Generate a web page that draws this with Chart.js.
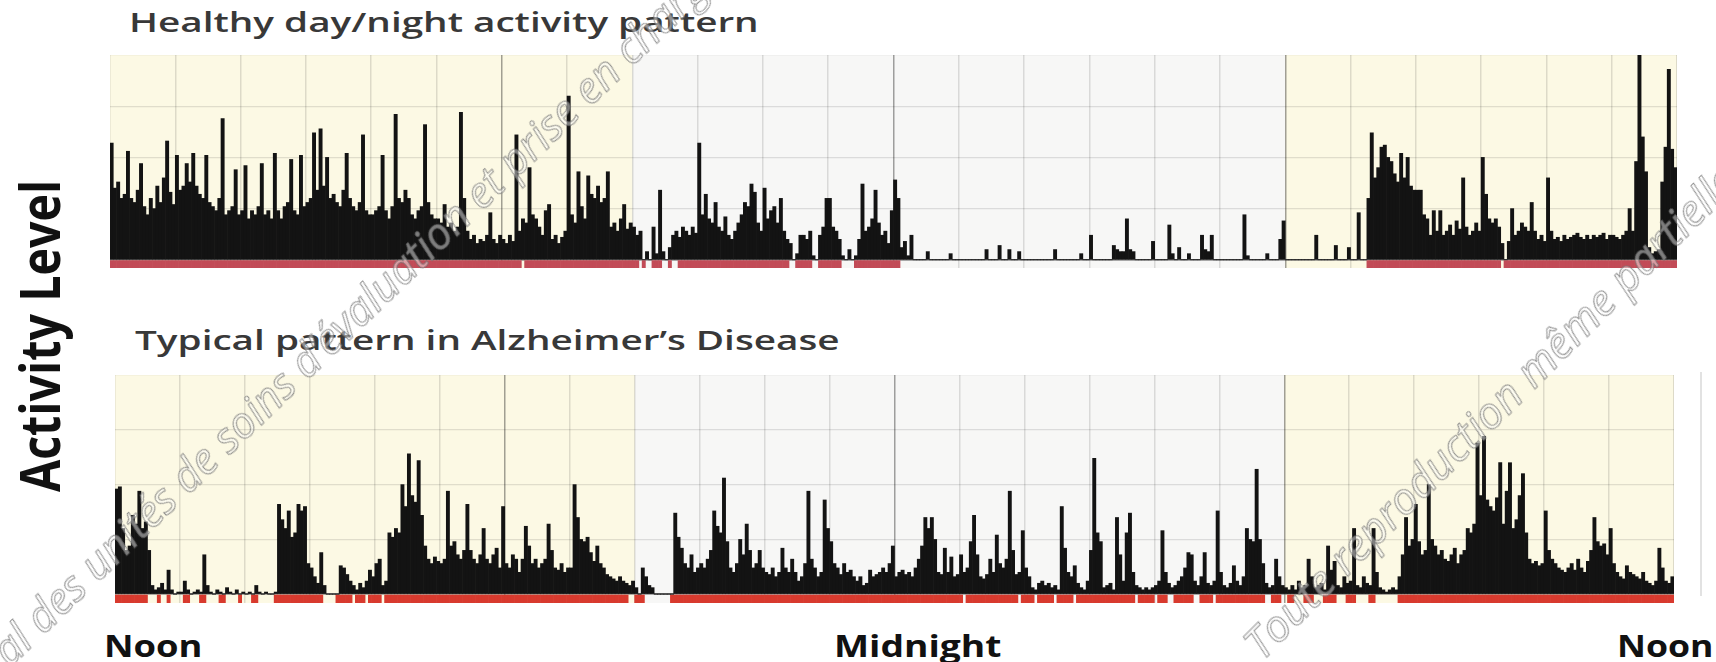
<!DOCTYPE html>
<html>
<head>
<meta charset="utf-8">
<script src="https://cdn.jsdelivr.net/npm/chart.js@4.4.1/dist/chart.umd.min.js"></script>
<style>
  html, body { margin: 0; padding: 0; background: #fff; }
  body { width: 1716px; height: 662px; position: relative; overflow: hidden; font-family: "Open Sans", sans-serif; }
  canvas { position: absolute; }
  .lbl { position: absolute; white-space: nowrap; line-height: 1; }
  .lbl i { display: inline-block; width: 0; height: 0; vertical-align: baseline; }
  .title { color: #383838; font-weight: 600; }
  .axis { color: #111; font-weight: 700; }
  .mark { color: rgba(255,255,255,0.45); -webkit-text-stroke: 1px rgba(110,110,110,0.75); font-style: italic; font-weight: 400; }
  .edge { position: absolute; left: 1700px; top: 372px; width: 2px; height: 224px; background: #e2e2e2; }
</style>
</head>
<body>
<div id="t1" class="lbl title">Healthy day/night activity pattern<i></i></div>
<div id="t2" class="lbl title">Typical pattern in Alzheimer’s Disease<i></i></div>
<div id="yl" class="lbl axis">Activity Level<i></i></div>
<div id="n1" class="lbl axis">Noon<i></i></div>
<div id="mid" class="lbl axis">Midnight<i></i></div>
<div id="n2" class="lbl axis">Noon<i></i></div>
<canvas id="healthy" width="1567" height="213" style="left:110px;top:55px"></canvas>
<canvas id="alz" width="1559" height="228" style="left:115px;top:375px"></canvas>
<div class="edge"></div>
<div id="w1" class="lbl mark">al des unités de soins d’évaluation et prise en charge<i></i></div>
<div id="w2" class="lbl mark">Toute reproduction même partielle<i></i></div>
<script>
// 3-minute bins, noon to noon
const binsPerHour = 20;
const hourTicks = [0,1,2,3,4,5,6,7,8,9,10,11,12,13,14,15,16,17,18,19,20,21,22,23,24];
const strongHours = [6, 12, 18];
const yTicks = [0, 25, 50, 75, 100];
const dayBands = [[0, 8], [18, 24]];

const healthy = [
  57,35,38,30,32, 53,30,28,34,47, 26,22,30,25,36, 28,40,58,33,27, // noon
  51,34,36,47,38, 52,36,32,30,51, 28,26,24,30,69, 22,24,26,44,22,
  24,46,20,24,22, 26,47,22,24,20, 52,24,20,26,28, 49,24,22,51,26,
  28,30,62,34,64, 36,50,30,32,28, 26,34,52,30,26, 24,28,61,24,22,
  22,24,26,51,24, 20,26,71,30,28, 34,30,22,20,24, 26,66,28,22,20,
  20,18,27,16,18, 14,16,72,30,14, 10,12,8,10,9, 12,23,10,8,12,
  10,8,12,9,61, 14,20,18,45,22, 20,16,12,24,27, 10,12,8,11,14, // 6pm
  80,22,18,43,26, 20,41,32,30,36, 28,30,43,16,18, 14,20,27,15,18,
  16,12,14,0,4, 0,16,3,34,4, 0,6,12,14,11, 16,14,12,16,13,
  57,22,32,20,18, 28,16,14,21,12, 10,14,18,22,28, 26,37,33,18,14,
  35,20,24,26,18, 30,14,10,8,0, 3,12,12,10,14, 2,0,12,16,30,
  30,16,14,10,2, 0,5,0,2,10, 37,14,16,20,34, 18,12,14,8,24,
  39,30,6,9,2, 12,0,0,0,0, 4,0,0,0,0, 0,0,3,0,0, // midnight
  0,0,0,0,0, 0,0,0,5,0, 0,0,7,0,0, 5,0,0,4,0,
  0,0,0,0,0, 0,0,0,0,5, 0,0,0,0,0, 0,0,3,0,0,
  12,0,0,0,0, 0,0,7,5,4, 4,20,5,4,0, 0,0,0,0,9,
  0,0,0,0,17, 3,0,6,0,0, 3,0,0,0,12, 5,4,12,0,0,
  0,0,0,0,0, 0,0,22,2,0, 0,0,0,0,3, 0,0,0,10,19,
  0,0,0,0,0, 0,0,0,0,12, 0,0,0,0,0, 7,0,0,0,6, // 6am
  0,0,23,0,0, 30,62,40,45,55, 56,50,48,42,38, 52,40,50,36,34,
  34,34,22,20,12, 24,14,24,12,14, 17,12,19,15,40, 16,12,14,18,14,
  50,32,20,18,20, 16,8,0,9,25, 12,14,18,16,14, 28,14,10,12,9,
  40,14,10,11,9, 12,10,11,12,13, 11,10,12,10,12, 11,12,13,10,12,
  12,11,10,12,14, 25,14,48,100,60, 43,6,3,4,5, 38,55,93,54,45
];

const alzheimer = [
  48,49,30,20,22, 36,32,47,30,33, 20,4,2,3,5, 2,11,2,0,1, // noon
  1,6,2,0,1, 2,1,18,4,1, 0,2,1,0,3, 1,0,2,0,1,
  0,1,0,4,1, 0,1,0,0,1, 41,34,30,38,26, 28,41,38,40,14,
  12,8,5,19,4, 0,0,0,0,13, 12,9,6,4,2, 5,3,6,11,8,
  14,16,4,6,28, 26,30,28,50,40, 64,45,42,61,36, 22,16,14,17,15,
  14,16,47,22,24, 18,16,20,41,20, 16,14,18,30,16, 14,18,21,12,40,
  14,12,18,16,10, 16,31,22,14,16, 12,14,16,32,20, 12,11,14,10,12, // 6pm
  12,50,35,25,24, 26,19,15,22,14, 12,9,8,7,6, 8,6,5,4,6,
  3,0,12,8,4, 3,0,0,0,0, 0,0,37,26,21, 14,12,18,10,12,
  14,12,16,20,38, 31,28,53,24,12, 10,14,25,18,32, 20,12,14,20,12,
  10,9,12,8,10, 21,12,10,16,10, 6,8,14,47,16, 12,8,10,43,30,
  24,14,12,9,14, 10,11,8,6,8, 4,5,11,8,9, 10,12,10,14,22,
  8,10,11,9,10, 8,12,16,22,35, 30,35,25,10,9, 21,10,17,8,9, // midnight
  18,10,12,24,36, 18,8,7,9,16, 10,27,14,12,16, 47,20,9,10,29,
  12,8,3,2,5, 6,4,5,3,4, 2,40,21,10,8, 13,5,3,2,6,
  20,62,28,24,3, 4,5,2,35,18, 6,28,37,10,4, 3,2,3,2,3,
  4,6,29,10,5, 3,4,6,8,12, 19,18,6,4,8, 19,5,4,6,38,
  10,4,3,5,13, 6,4,8,30,25, 24,57,25,14,5, 3,4,16,8,4,
  3,2,4,2,6, 3,4,16,8,3, 4,5,2,22,11, 15,4,3,8,5, // 6am
  6,30,4,3,8, 5,4,30,10,3, 2,1,2,3,2, 8,18,35,22,25,
  41,24,18,20,50, 25,22,18,20,16, 15,18,21,14,18, 20,30,28,32,69,
  45,72,43,40,38, 44,60,32,47,60, 30,34,45,55,28, 16,14,15,13,14,
  38,20,16,14,12, 11,10,12,14,11, 16,12,10,15,20, 35,24,22,23,18,
  30,14,10,8,7, 13,10,9,8,7, 10,6,5,4,6, 21,12,6,5,8
];

// hours (from noon) with the red "awake" marker under the baseline
const healthyWake = [[0, 6.28], [6.33, 8.1], [8.15, 8.22], [8.3, 8.45], [8.55, 8.62], [8.7, 10.42],
  [10.5, 10.76], [10.86, 11.19], [11.39, 12.1], [19.24, 21.32], [21.36, 24]];
const alzheimerWake = [[0, 0.52], [0.66, 0.71], [0.8, 0.86], [1.05, 1.13], [1.32, 1.4], [1.6, 1.68],
  [1.88, 1.95], [2.12, 2.2], [2.47, 3.22], [3.42, 3.65], [3.72, 3.85], [3.9, 4.1], [4.17, 7.92],
  [8.0, 8.14], [8.55, 13.05], [13.1, 13.9], [13.95, 14.15], [14.2, 14.45], [14.5, 14.75],
  [14.8, 15.7], [15.75, 16.0], [16.05, 16.2], [16.3, 16.6], [16.7, 16.9], [16.95, 17.7],
  [17.8, 17.95], [18.05, 18.15], [18.3, 18.45], [18.6, 18.8], [18.95, 19.1], [19.3, 19.4], [19.76, 24]];

const bandDepth = -4;
const binLabels = healthy.map((v, i) => i);

function wakeBars(wake) {
  return binLabels.map(i => {
    const t = (i + 0.5) / binsPerHour;
    return wake.some(([a, b]) => t >= a && t < b) ? [bandDepth, 0] : null;
  });
}

const tickVal = c => (c && c.tick ? c.tick.value : -1);

const bandsPlugin = {
  id: 'bands',
  beforeDraw(chart) {
    const { ctx, chartArea: a } = chart;
    const xg = chart.scales.xg;
    ctx.save();
    ctx.fillStyle = '#f7f7f6';
    ctx.fillRect(a.left, a.top, a.width, a.height);
    ctx.fillStyle = '#fcf9e4';
    dayBands.forEach(([s, e]) => {
      const x0 = xg.getPixelForValue(s), x1 = xg.getPixelForValue(e);
      ctx.fillRect(x0, a.top, x1 - x0, a.height);
    });
    ctx.restore();
  }
};

function makeChart(id, values, wake, bandColor) {
  return new Chart(document.getElementById(id), {
    type: 'bar',
    data: {
      labels: binLabels,
      datasets: [
        { data: values, backgroundColor: '#131313', grouped: false, barPercentage: 1, categoryPercentage: 1 },
        { data: wakeBars(wake), backgroundColor: bandColor, grouped: false, barPercentage: 1, categoryPercentage: 1 }
      ]
    },
    options: {
      responsive: false,
      animation: false,
      layout: { padding: 0 },
      plugins: { legend: { display: false }, tooltip: { enabled: false } },
      scales: {
        x: { display: false },
        xg: {
          type: 'linear', position: 'bottom', min: 0, max: 24, offset: false,
          afterBuildTicks: s => { s.ticks = hourTicks.map(v => ({ value: v })); },
          afterFit: s => { s.height = 0; },
          ticks: { display: false },
          border: { display: false, color: 'rgba(0,0,0,0)' },
          grid: {
            offset: false, drawTicks: false, lineWidth: 1.5,
            color: c => strongHours.includes(tickVal(c)) ? 'rgba(0,0,0,0.36)' : 'rgba(0,0,0,0.12)'
          }
        },
        y: {
          min: bandDepth, max: 100,
          afterBuildTicks: s => { s.ticks = yTicks.map(v => ({ value: v })); },
          afterFit: s => { s.width = 0; },
          ticks: { display: false },
          border: { display: false, color: 'rgba(0,0,0,0)' },
          grid: {
            drawTicks: false,
            lineWidth: c => tickVal(c) === 0 ? 1.6 : 1.2,
            color: c => tickVal(c) === 0 ? '#5a5a5a' : 'rgba(0,0,0,0.11)'
          }
        }
      }
    },
    plugins: [bandsPlugin]
  });
}

// text boxes: baseline start point, cap height, target length
function place(id, o) {
  const el = document.getElementById(id);
  el.style.fontSize = o.size + 'px';
  const w = el.offsetWidth;
  const b = el.querySelector('i').offsetTop;
  const k = o.width ? o.width / w : 1;
  el.style.left = o.x + 'px';
  el.style.top = (o.y - b) + 'px';
  el.style.transformOrigin = '0px ' + b + 'px';
  el.style.transform = 'rotate(' + (o.rot || 0) + 'deg) scaleX(' + k + ')';
}
const cap = 0.714;
place('t1', { x: 129, y: 32, size: 19 / cap, width: 629 });
place('t2', { x: 135, y: 350, size: 19 / cap, width: 705 });
place('yl', { x: 60, y: 492, size: 40 / cap, width: 312, rot: -90 });
place('n1', { x: 104, y: 657, size: 22 / cap, width: 98 });
place('mid', { x: 834, y: 657, size: 22 / cap, width: 168 });
place('n2', { x: 1617, y: 657, size: 22 / cap, width: 96 });
place('w1', { x: 10, y: 668, size: 43, rot: -44 });
place('w2', { x: 1262, y: 662, size: 44, rot: -45 });

makeChart('healthy', healthy, healthyWake, '#c24b57');
makeChart('alz', alzheimer, alzheimerWake, '#d83a2e');
</script>
</body>
</html>
